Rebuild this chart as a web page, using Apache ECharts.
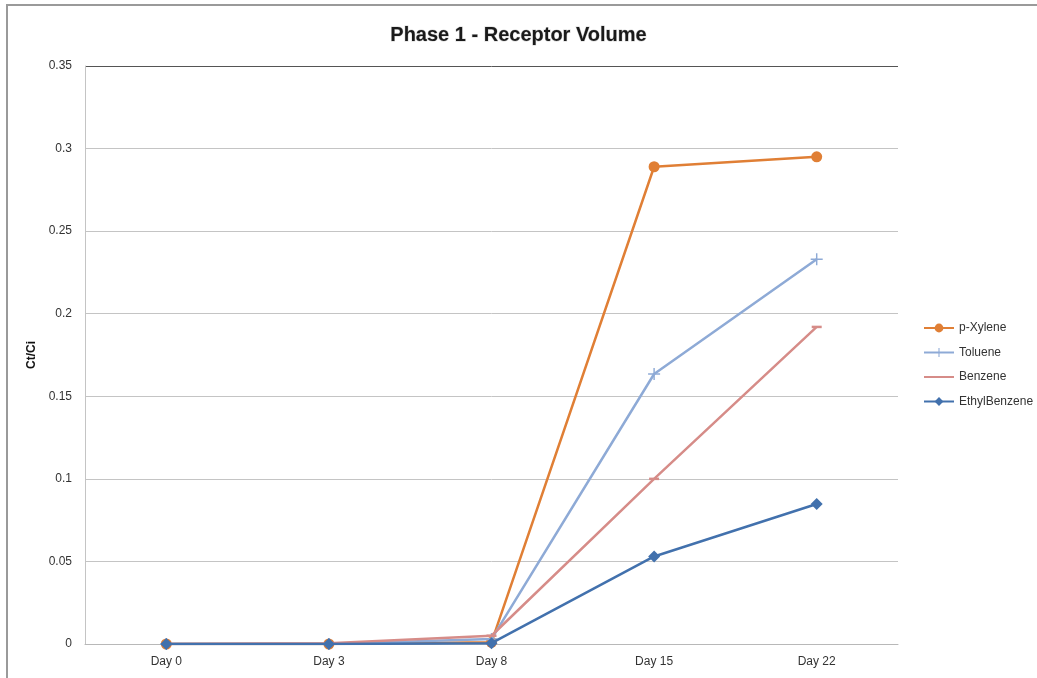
<!DOCTYPE html>
<html>
<head>
<meta charset="utf-8">
<title>Phase 1 - Receptor Volume</title>
<script src="https://cdn.jsdelivr.net/npm/echarts@6/dist/echarts.min.js"></script>
<style>
  html, body { margin: 0; padding: 0; background: #fff; }
  #chart { width: 1037px; height: 678px; }
</style>
</head>
<body>
<div id="chart"></div>
<script>
// Sampling days
const days = ['Day 0', 'Day 3', 'Day 8', 'Day 15', 'Day 22'];

// Ct/Ci per compound
const pXylene      = [0, 0, 0.001, 0.289, 0.295];
const toluene      = [0, 0, 0.003, 0.1635, 0.233];
const benzene      = [0, 0.0005, 0.005, 0.100, 0.192];
const ethylBenzene = [0, 0, 0.0005, 0.053, 0.0848];

// Value axis ticks
const yTicks = [0, 0.05, 0.1, 0.15, 0.2, 0.25, 0.3, 0.35];

const font = 'Liberation Sans, Arial, sans-serif';
const plusPath = 'path://M4.4,0h1.2v10h-1.2zM0,4.4h10v1.2h-10z';

const chart = echarts.init(document.getElementById('chart'));
chart.setOption({
  animation: false,
  backgroundColor: '#fff',
  title: {
    text: 'Phase 1 - Receptor Volume',
    left: 'center',
    top: 20,
    textStyle: {
      fontFamily: font,
      fontSize: 20,
      fontWeight: 'bold',
      color: '#1a1a1a',
      textBorderColor: '#d4d4d4',
      textBorderWidth: 1
    }
  },
  legend: {
    orient: 'vertical',
    left: 918,
    top: 317,
    itemWidth: 30,
    itemHeight: 11,
    itemGap: 12.5,
    textStyle: { fontFamily: font, fontSize: 12, color: '#333' },
    data: [
      { name: 'p-Xylene' },
      { name: 'Toluene' },
      { name: 'Benzene', itemStyle: { opacity: 0 } },
      { name: 'EthylBenzene' }
    ]
  },
  grid: { left: 85, right: 139, top: 66, bottom: 34 },
  xAxis: {
    type: 'category',
    data: days,
    boundaryGap: true,
    axisLine: { lineStyle: { color: '#b8b8b8', width: 1 } },
    axisTick: { show: false },
    axisLabel: { fontFamily: font, fontSize: 12, color: '#333', margin: 12 }
  },
  yAxis: {
    type: 'value',
    min: yTicks[0],
    max: yTicks[yTicks.length - 1],
    interval: 0.05,
    name: 'Ct/Ci',
    nameLocation: 'middle',
    nameRotate: 90,
    nameGap: 40,
    nameTextStyle: { fontFamily: font, fontSize: 12, fontWeight: 'bold', color: '#111' },
    axisLine: { show: true, lineStyle: { color: '#c4c4c4', width: 1 } },
    axisTick: { show: false },
    axisLabel: { fontFamily: font, fontSize: 12, color: '#333', margin: 13 },
    splitLine: {
      show: true,
      lineStyle: {
        color: ['#c4c4c4', '#c4c4c4', '#c4c4c4', '#c4c4c4', '#c4c4c4', '#c4c4c4', '#c4c4c4', '#555'],
        width: 1
      }
    }
  },
  graphic: [
    {
      type: 'polyline',
      silent: true,
      shape: { points: [[7, 678], [7, 5], [1037, 5]] },
      style: { stroke: '#9a9a9a', lineWidth: 2, fill: null }
    },
    {
      type: 'line',
      silent: true,
      shape: { x1: 85.5, y1: 66, x2: 85.5, y2: 100 },
      style: { stroke: '#555', lineWidth: 1 }
    }
  ],
  series: [
    {
      name: 'p-Xylene',
      type: 'line',
      data: pXylene,
      symbol: 'circle',
      symbolSize: 11,
      color: '#e07f35',
      lineStyle: { width: 2.5 },
      z: 2
    },
    {
      name: 'Toluene',
      type: 'line',
      data: toluene,
      symbol: plusPath,
      symbolSize: 12,
      color: '#8eaad6',
      lineStyle: { width: 2.5 },
      z: 3
    },
    {
      name: 'Benzene',
      type: 'line',
      data: benzene,
      symbol: 'rect',
      symbolSize: [10, 2.5],
      color: '#d68c88',
      lineStyle: { width: 2.5 },
      z: 4
    },
    {
      name: 'EthylBenzene',
      type: 'line',
      data: ethylBenzene,
      symbol: 'diamond',
      symbolSize: 12,
      color: '#4271ad',
      lineStyle: { width: 2.5 },
      z: 5
    }
  ]
});
</script>
</body>
</html>
